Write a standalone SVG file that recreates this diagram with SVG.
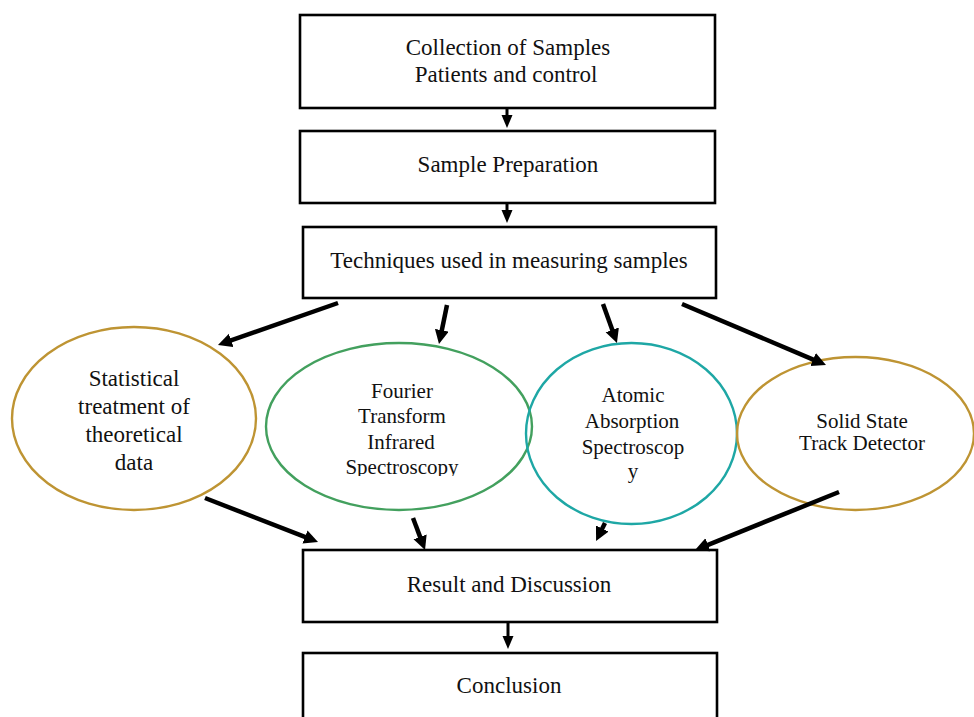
<svg xmlns="http://www.w3.org/2000/svg" width="974" height="717" viewBox="0 0 974 717">
<style>
.box{fill:#fff;stroke:#000;stroke-width:2.6}
.t{font-family:"Liberation Serif","Times New Roman",serif;fill:#111;text-anchor:middle}
.bt{font-size:23px}
.et{font-size:21px}
.gold{fill:none;stroke:#BE9433;stroke-width:2.4}
.green{fill:none;stroke:#43A05E;stroke-width:2.4}
.teal{fill:none;stroke:#1EA7A5;stroke-width:2.4}
.big{fill:none;stroke:#000;stroke-width:4.5;marker-end:url(#hb)}
.small{fill:none;stroke:#000;stroke-width:3;marker-end:url(#hs)}
</style>
<defs>
<marker id="hb" markerUnits="userSpaceOnUse" markerWidth="16" markerHeight="16" refX="4" refY="7" orient="auto"><path d="M0,0 L14,7 L0,14 z" fill="#000"/></marker>
<marker id="hs" markerUnits="userSpaceOnUse" markerWidth="14" markerHeight="12" refX="4" refY="5.5" orient="auto"><path d="M0,0 L13,5.5 L0,11 z" fill="#000"/></marker>
<clipPath id="clipFt"><rect x="250" y="360" width="300" height="116"/></clipPath>
</defs>
<rect width="974" height="717" fill="#fff"/>

<g id="collection">
<rect class="box" x="300" y="15" width="415" height="93"/>
<text class="t bt" x="508" y="55">Collection of Samples</text>
<text class="t bt" x="506" y="82">Patients and control</text>
</g>
<g id="preparation">
<rect class="box" x="300" y="131" width="415" height="72"/>
<text class="t bt" x="508" y="172">Sample Preparation</text>
</g>
<g id="techniques">
<rect class="box" x="303" y="227" width="413" height="71"/>
<text class="t bt" x="509" y="268">Techniques used in measuring samples</text>
</g>
<g id="statistical">
<ellipse class="gold" cx="134" cy="418.5" rx="122" ry="91.5"/>
<text class="t" font-size="23" x="134" y="386">Statistical</text>
<text class="t" font-size="23" x="134" y="414">treatment of</text>
<text class="t" font-size="23" x="134" y="442">theoretical</text>
<text class="t" font-size="23" x="134" y="470">data</text>
</g>
<g id="ftir">
<ellipse class="green" cx="399" cy="426.5" rx="133" ry="83.5"/>
<g clip-path="url(#clipFt)">
<text class="t et" x="402" y="398">Fourier</text>
<text class="t et" x="402" y="423">Transform</text>
<text class="t et" x="401" y="449">Infrared</text>
<text class="t et" x="402" y="474">Spectroscopy</text>
</g>
</g>
<g id="aas">
<ellipse class="teal" cx="631.5" cy="433.5" rx="105.5" ry="90.5"/>
<text class="t et" x="633" y="402">Atomic</text>
<text class="t et" x="632" y="428">Absorption</text>
<text class="t et" x="633" y="454">Spectroscop</text>
<text class="t et" x="633" y="478">y</text>
</g>
<g id="ssntd">
<ellipse class="gold" cx="855.5" cy="433.5" rx="118.5" ry="76.5"/>
<text class="t et" x="862" y="428">Solid State</text>
<text class="t et" x="862" y="450">Track Detector</text>
</g>
<g id="result">
<rect class="box" x="303" y="550" width="414" height="72"/>
<text class="t bt" x="509" y="592">Result and Discussion</text>
</g>
<g id="conclusion">
<rect class="box" x="303" y="653" width="414" height="70"/>
<text class="t bt" x="509" y="693">Conclusion</text>
</g>

<g id="connectors">
<path class="small" d="M507,108 V119"/>
<path class="small" d="M507,203 V214"/>
<path class="small" d="M508,623 V640"/>
<path class="big" d="M338,303 L227.4,341.7"/>
<path class="big" d="M447,305 L441,334.2"/>
<path class="big" d="M603,304 L613.6,333.6"/>
<path class="big" d="M682,304 L816.8,361.1"/>
<path class="big" d="M205,498 L308.7,538.4"/>
<path class="big" d="M413,518 L421.5,540.6"/>
<path class="big" d="M605,523 L600.5,532.1"/>
<path class="big" d="M839,492 L704.3,546.3"/>
</g>
</svg>
